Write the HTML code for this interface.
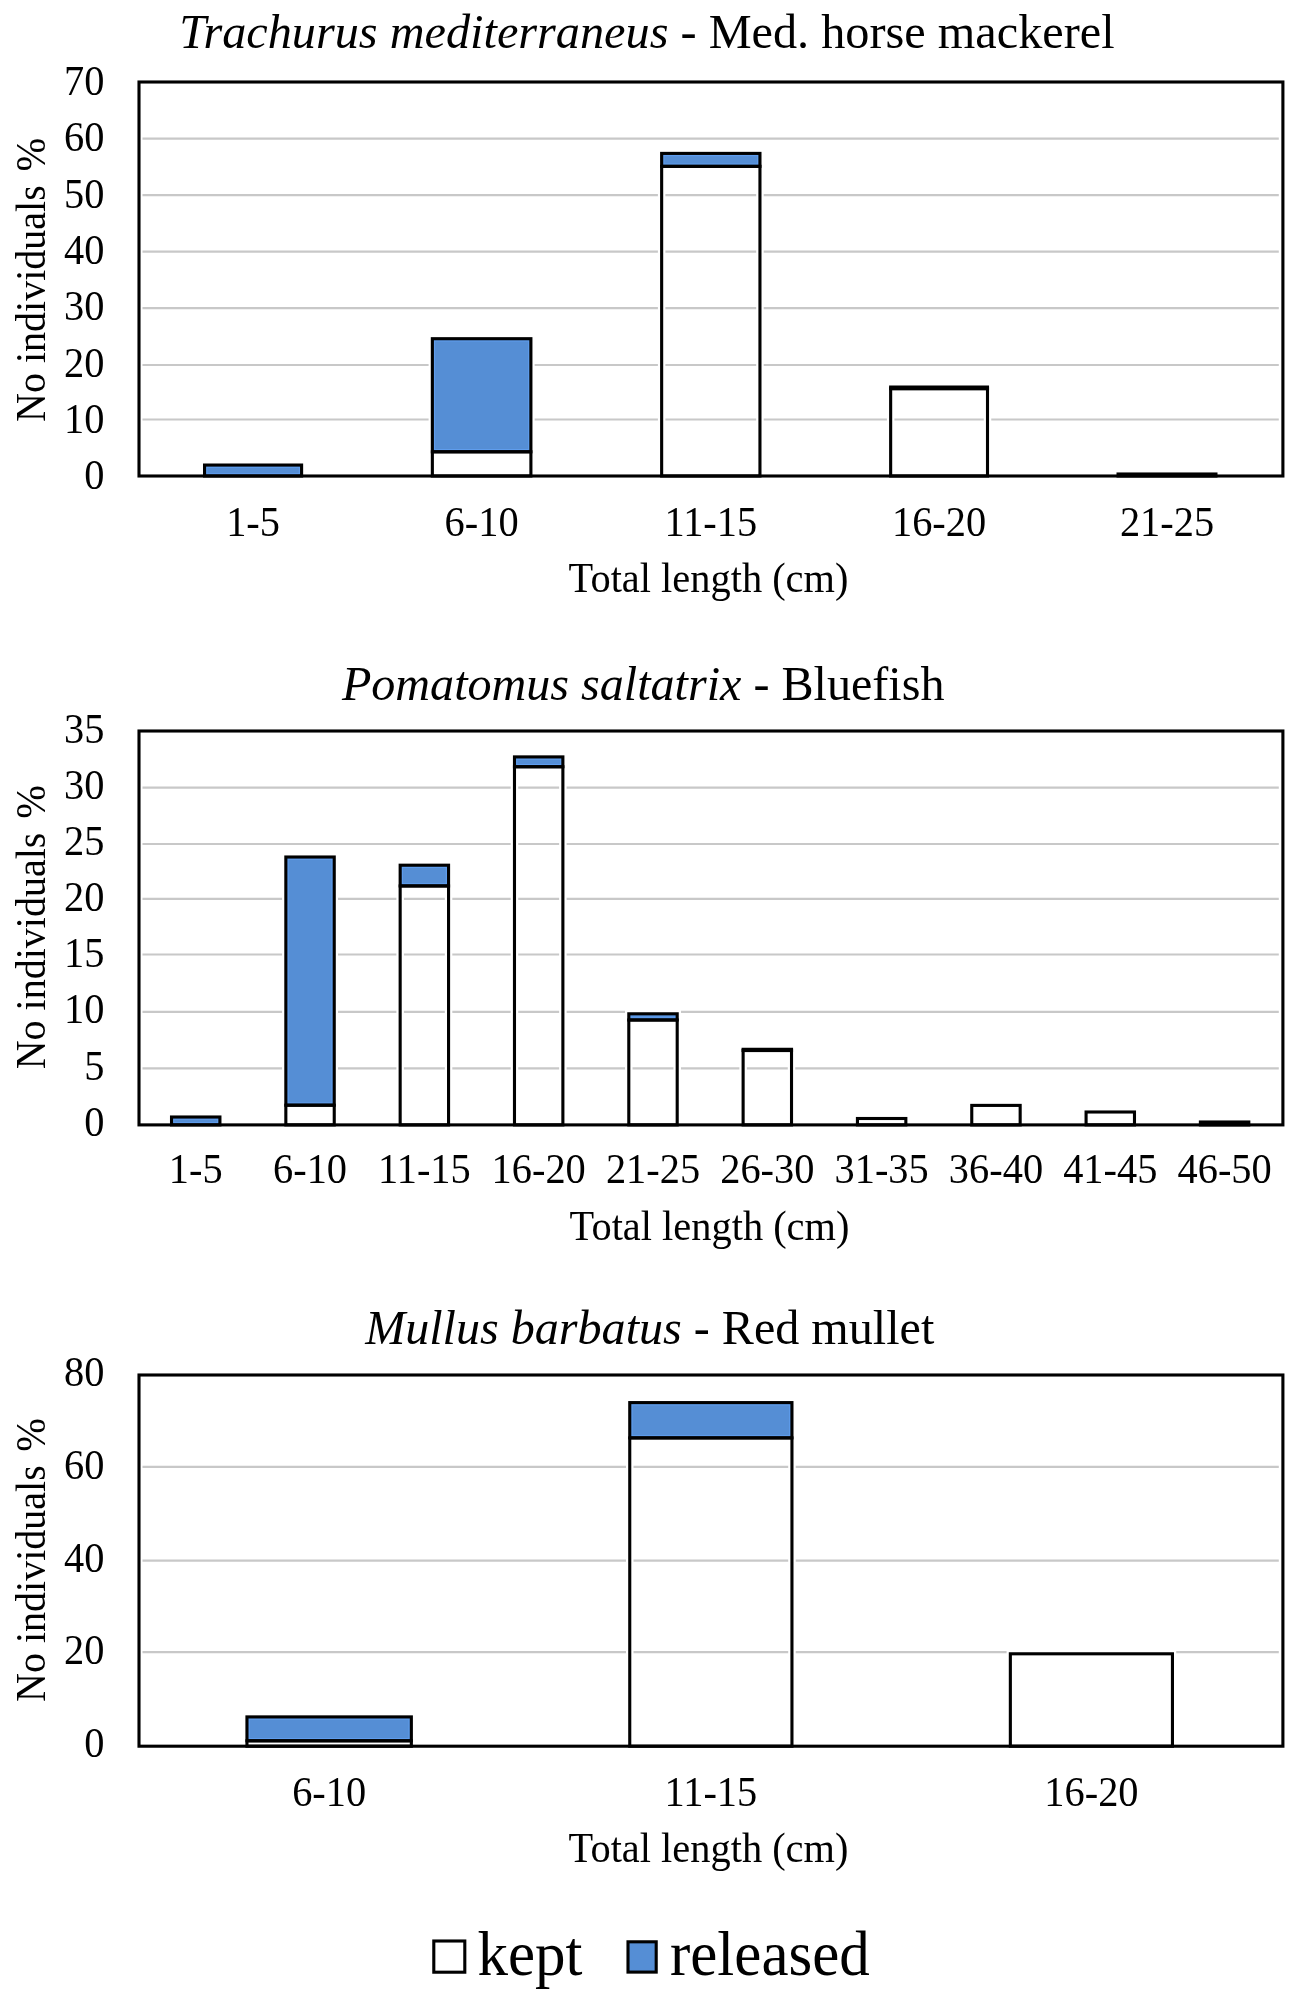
<!DOCTYPE html>
<html><head><meta charset="utf-8"><title>Length frequency charts</title>
<style>
html,body{margin:0;padding:0;background:#fff;width:1299px;height:2003px;overflow:hidden}
svg{display:block}
text{font-family:"Liberation Serif",serif;fill:#000;font-variant-ligatures:none;font-kerning:normal}
</style></head><body>
<svg width="1299" height="2003" viewBox="0 0 1299 2003" style="will-change:transform">
<rect width="1299" height="2003" fill="#fff"/>
<text x="646.9" y="48.2" font-size="48.25" text-anchor="middle"><tspan font-style="italic">Trachurus mediterraneus</tspan> - Med. horse mackerel</text>
<line x1="142.5" x2="1278.8" y1="138.7" y2="138.7" stroke="#c8c8c8" stroke-width="2.2"/>
<line x1="142.5" x2="1278.8" y1="195.2" y2="195.2" stroke="#c8c8c8" stroke-width="2.2"/>
<line x1="142.5" x2="1278.8" y1="251.7" y2="251.7" stroke="#c8c8c8" stroke-width="2.2"/>
<line x1="142.5" x2="1278.8" y1="308.2" y2="308.2" stroke="#c8c8c8" stroke-width="2.2"/>
<line x1="142.5" x2="1278.8" y1="365" y2="365" stroke="#c8c8c8" stroke-width="2.2"/>
<line x1="142.5" x2="1278.8" y1="419.5" y2="419.5" stroke="#c8c8c8" stroke-width="2.2"/>
<text transform="translate(104.5 95.1) scale(1 1.055)" font-size="40.4" text-anchor="end">70</text>
<text transform="translate(104.5 151.39) scale(1 1.055)" font-size="40.4" text-anchor="end">60</text>
<text transform="translate(104.5 207.67) scale(1 1.055)" font-size="40.4" text-anchor="end">50</text>
<text transform="translate(104.5 263.96) scale(1 1.055)" font-size="40.4" text-anchor="end">40</text>
<text transform="translate(104.5 320.24) scale(1 1.055)" font-size="40.4" text-anchor="end">30</text>
<text transform="translate(104.5 376.53) scale(1 1.055)" font-size="40.4" text-anchor="end">20</text>
<text transform="translate(104.5 432.81) scale(1 1.055)" font-size="40.4" text-anchor="end">10</text>
<text transform="translate(104.5 489.1) scale(1 1.055)" font-size="40.4" text-anchor="end">0</text>
<g fill="none" stroke="#fff" stroke-width="7.5"><rect x="204.55" y="465.05" width="97.05" height="10.95"/><rect x="432.35" y="338.7" width="98.55" height="137.3"/><rect x="661.65" y="153.4" width="98.3" height="322.6"/><rect x="890.65" y="387.05" width="96.85" height="88.95"/><rect x="1118.05" y="474" width="97.9" height="2"/></g>
<g fill="#558ED5" stroke="none"><rect x="204.55" y="465.05" width="97.05" height="10.95"/><rect x="432.35" y="338.7" width="98.55" height="113.1"/><rect x="661.65" y="153.4" width="98.3" height="12.95"/><rect x="890.65" y="387.05" width="96.85" height="1.6"/></g>
<g fill="none" stroke="#5f9ded" stroke-width="1.2"><rect x="206.75" y="467.25" width="92.65" height="6.55"/><rect x="434.55" y="340.9" width="94.15" height="108.7"/><rect x="663.85" y="155.6" width="93.9" height="8.55"/></g>
<g fill="none" stroke="#000" stroke-width="3.1"><rect x="204.55" y="465.05" width="97.05" height="10.95"/><rect x="432.35" y="338.7" width="98.55" height="113.1"/><rect x="432.35" y="451.8" width="98.55" height="24.2"/><rect x="661.65" y="153.4" width="98.3" height="12.95"/><rect x="661.65" y="166.35" width="98.3" height="309.65"/><rect x="890.65" y="387.05" width="96.85" height="1.6"/><rect x="890.65" y="388.65" width="96.85" height="87.35"/><rect x="1118.05" y="474" width="97.9" height="2"/></g>
<rect x="139" y="82" width="1143.9" height="394" fill="none" stroke="#000" stroke-width="3.1"/>
<text transform="translate(253.08 535.7) scale(1 1.055)" font-size="40.4" text-anchor="middle">1-5</text>
<text transform="translate(481.62 535.7) scale(1 1.055)" font-size="40.4" text-anchor="middle">6-10</text>
<text transform="translate(710.8 535.7) scale(1 1.055)" font-size="40.4" text-anchor="middle">11-15</text>
<text transform="translate(939.08 535.7) scale(1 1.055)" font-size="40.4" text-anchor="middle">16-20</text>
<text transform="translate(1167 535.7) scale(1 1.055)" font-size="40.4" text-anchor="middle">21-25</text>
<text transform="translate(708.5 592.4) scale(1 1.055)" font-size="40.4" text-anchor="middle">Total length (cm)</text>
<text transform="translate(45 421.9) rotate(-90) scale(1 1.055)" font-size="40">No individuals</text><text transform="translate(45 137.9) rotate(-90) scale(1 1.055)" font-size="40.4" text-anchor="end">%</text>
<text x="643.2" y="699.9" font-size="48.1" text-anchor="middle"><tspan font-style="italic">Pomatomus saltatrix</tspan> - Bluefish</text>
<line x1="142.5" x2="1278.8" y1="787.7" y2="787.7" stroke="#c8c8c8" stroke-width="2.2"/>
<line x1="142.5" x2="1278.8" y1="844" y2="844" stroke="#c8c8c8" stroke-width="2.2"/>
<line x1="142.5" x2="1278.8" y1="898.9" y2="898.9" stroke="#c8c8c8" stroke-width="2.2"/>
<line x1="142.5" x2="1278.8" y1="954.5" y2="954.5" stroke="#c8c8c8" stroke-width="2.2"/>
<line x1="142.5" x2="1278.8" y1="1011.9" y2="1011.9" stroke="#c8c8c8" stroke-width="2.2"/>
<line x1="142.5" x2="1278.8" y1="1068.3" y2="1068.3" stroke="#c8c8c8" stroke-width="2.2"/>
<text transform="translate(104.5 742.5) scale(1 1.055)" font-size="40.4" text-anchor="end">35</text>
<text transform="translate(104.5 798.69) scale(1 1.055)" font-size="40.4" text-anchor="end">30</text>
<text transform="translate(104.5 854.87) scale(1 1.055)" font-size="40.4" text-anchor="end">25</text>
<text transform="translate(104.5 911.06) scale(1 1.055)" font-size="40.4" text-anchor="end">20</text>
<text transform="translate(104.5 967.24) scale(1 1.055)" font-size="40.4" text-anchor="end">15</text>
<text transform="translate(104.5 1023.43) scale(1 1.055)" font-size="40.4" text-anchor="end">10</text>
<text transform="translate(104.5 1079.61) scale(1 1.055)" font-size="40.4" text-anchor="end">5</text>
<text transform="translate(104.5 1135.8) scale(1 1.055)" font-size="40.4" text-anchor="end">0</text>
<g fill="none" stroke="#fff" stroke-width="7.5"><rect x="171.52" y="1117" width="48.4" height="7.9"/><rect x="285.84" y="857" width="48.4" height="267.9"/><rect x="400.16" y="865.2" width="48.4" height="259.7"/><rect x="514.48" y="756.9" width="48.4" height="368"/><rect x="628.8" y="1013.8" width="48.4" height="111.1"/><rect x="743.12" y="1049.3" width="48.4" height="75.6"/><rect x="857.44" y="1118.5" width="48.4" height="6.4"/><rect x="971.76" y="1105.4" width="48.4" height="19.5"/><rect x="1086.08" y="1112" width="48.4" height="12.9"/><rect x="1200.4" y="1122" width="48.4" height="2.9"/></g>
<g fill="#558ED5" stroke="none"><rect x="171.52" y="1117" width="48.4" height="7.9"/><rect x="285.84" y="857" width="48.4" height="248.2"/><rect x="400.16" y="865.2" width="48.4" height="20.75"/><rect x="514.48" y="756.9" width="48.4" height="9.85"/><rect x="628.8" y="1013.8" width="48.4" height="6.2"/><rect x="743.12" y="1049.3" width="48.4" height="1.2"/></g>
<g fill="none" stroke="#5f9ded" stroke-width="1.2"><rect x="173.72" y="1119.2" width="44" height="3.5"/><rect x="288.04" y="859.2" width="44" height="243.8"/><rect x="402.36" y="867.4" width="44" height="16.35"/><rect x="516.68" y="759.1" width="44" height="5.45"/><rect x="631" y="1016" width="44" height="1.8"/></g>
<g fill="none" stroke="#000" stroke-width="3.1"><rect x="171.52" y="1117" width="48.4" height="7.9"/><rect x="285.84" y="857" width="48.4" height="248.2"/><rect x="285.84" y="1105.2" width="48.4" height="19.7"/><rect x="400.16" y="865.2" width="48.4" height="20.75"/><rect x="400.16" y="885.95" width="48.4" height="238.95"/><rect x="514.48" y="756.9" width="48.4" height="9.85"/><rect x="514.48" y="766.75" width="48.4" height="358.15"/><rect x="628.8" y="1013.8" width="48.4" height="6.2"/><rect x="628.8" y="1020" width="48.4" height="104.9"/><rect x="743.12" y="1049.3" width="48.4" height="1.2"/><rect x="743.12" y="1050.5" width="48.4" height="74.4"/><rect x="857.44" y="1118.5" width="48.4" height="6.4"/><rect x="971.76" y="1105.4" width="48.4" height="19.5"/><rect x="1086.08" y="1112" width="48.4" height="12.9"/><rect x="1200.4" y="1122" width="48.4" height="2.9"/></g>
<rect x="139" y="731" width="1143.9" height="393.9" fill="none" stroke="#000" stroke-width="3.1"/>
<text transform="translate(195.72 1182.9) scale(1 1.055)" font-size="40.4" text-anchor="middle">1-5</text>
<text transform="translate(310.04 1182.9) scale(1 1.055)" font-size="40.4" text-anchor="middle">6-10</text>
<text transform="translate(424.36 1182.9) scale(1 1.055)" font-size="40.4" text-anchor="middle">11-15</text>
<text transform="translate(538.68 1182.9) scale(1 1.055)" font-size="40.4" text-anchor="middle">16-20</text>
<text transform="translate(653 1182.9) scale(1 1.055)" font-size="40.4" text-anchor="middle">21-25</text>
<text transform="translate(767.32 1182.9) scale(1 1.055)" font-size="40.4" text-anchor="middle">26-30</text>
<text transform="translate(881.64 1182.9) scale(1 1.055)" font-size="40.4" text-anchor="middle">31-35</text>
<text transform="translate(995.96 1182.9) scale(1 1.055)" font-size="40.4" text-anchor="middle">36-40</text>
<text transform="translate(1110.28 1182.9) scale(1 1.055)" font-size="40.4" text-anchor="middle">41-45</text>
<text transform="translate(1224.6 1182.9) scale(1 1.055)" font-size="40.4" text-anchor="middle">46-50</text>
<text transform="translate(709.5 1239.5) scale(1 1.055)" font-size="40.4" text-anchor="middle">Total length (cm)</text>
<text transform="translate(45 1069.3) rotate(-90) scale(1 1.055)" font-size="40">No individuals</text><text transform="translate(45 785.2) rotate(-90) scale(1 1.055)" font-size="40.4" text-anchor="end">%</text>
<text x="649.7" y="1344" font-size="48.1" text-anchor="middle"><tspan font-style="italic">Mullus barbatus</tspan> - Red mullet</text>
<line x1="142.5" x2="1278.8" y1="1466.8" y2="1466.8" stroke="#c8c8c8" stroke-width="2.2"/>
<line x1="142.5" x2="1278.8" y1="1560.7" y2="1560.7" stroke="#c8c8c8" stroke-width="2.2"/>
<line x1="142.5" x2="1278.8" y1="1652.2" y2="1652.2" stroke="#c8c8c8" stroke-width="2.2"/>
<text transform="translate(104.5 1385.9) scale(1 1.055)" font-size="40.4" text-anchor="end">80</text>
<text transform="translate(104.5 1478.74) scale(1 1.055)" font-size="40.4" text-anchor="end">60</text>
<text transform="translate(104.5 1571.57) scale(1 1.055)" font-size="40.4" text-anchor="end">40</text>
<text transform="translate(104.5 1664.41) scale(1 1.055)" font-size="40.4" text-anchor="end">20</text>
<text transform="translate(104.5 1757.25) scale(1 1.055)" font-size="40.4" text-anchor="end">0</text>
<g fill="none" stroke="#fff" stroke-width="7.5"><rect x="246.95" y="1716.9" width="164.4" height="29.3"/><rect x="629.75" y="1402.6" width="162.2" height="343.6"/><rect x="1010.35" y="1653.8" width="162.1" height="92.4"/></g>
<g fill="#558ED5" stroke="none"><rect x="246.95" y="1716.9" width="164.4" height="23.9"/><rect x="629.75" y="1402.6" width="162.2" height="35.3"/></g>
<g fill="none" stroke="#5f9ded" stroke-width="1.2"><rect x="249.15" y="1719.1" width="160" height="19.5"/><rect x="631.95" y="1404.8" width="157.8" height="30.9"/></g>
<g fill="none" stroke="#000" stroke-width="3.1"><rect x="246.95" y="1716.9" width="164.4" height="23.9"/><rect x="246.95" y="1740.8" width="164.4" height="5.4"/><rect x="629.75" y="1402.6" width="162.2" height="35.3"/><rect x="629.75" y="1437.9" width="162.2" height="308.3"/><rect x="1010.35" y="1653.8" width="162.1" height="92.4"/></g>
<rect x="139" y="1375" width="1143.9" height="371.2" fill="none" stroke="#000" stroke-width="3.1"/>
<text transform="translate(329.15 1806) scale(1 1.055)" font-size="40.4" text-anchor="middle">6-10</text>
<text transform="translate(710.85 1806) scale(1 1.055)" font-size="40.4" text-anchor="middle">11-15</text>
<text transform="translate(1091.4 1806) scale(1 1.055)" font-size="40.4" text-anchor="middle">16-20</text>
<text transform="translate(708.5 1862.3) scale(1 1.055)" font-size="40.4" text-anchor="middle">Total length (cm)</text>
<text transform="translate(45 1701.9) rotate(-90) scale(1 1.055)" font-size="40">No individuals</text><text transform="translate(45 1418) rotate(-90) scale(1 1.055)" font-size="40.4" text-anchor="end">%</text>
<rect x="433.8" y="1941" width="31" height="31.2" fill="#fff" stroke="#000" stroke-width="3.1"/>
<text transform="translate(477.5 1975) scale(1 1.025)" font-size="61">kept</text>
<rect x="628" y="1941.8" width="28.2" height="30.3" fill="#558ED5" stroke="#000" stroke-width="3.1"/>
<text transform="translate(670 1975) scale(1 1.025)" font-size="61">released</text>
</svg>
</body></html>
